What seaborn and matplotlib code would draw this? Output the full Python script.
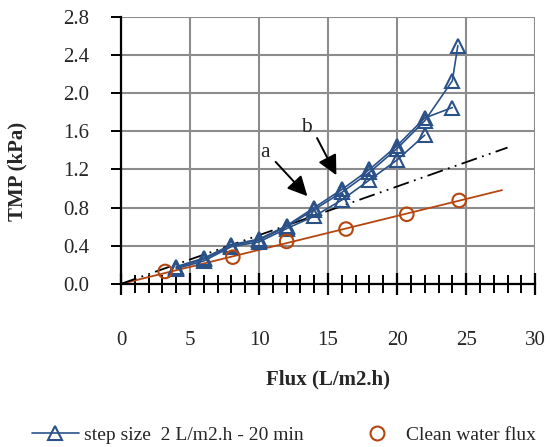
import numpy as np
import pandas as pd
import matplotlib
matplotlib.use("Agg")
import matplotlib.pyplot as plt
import seaborn as sns
from matplotlib.lines import Line2D
from matplotlib.ticker import MultipleLocator

# step-size runs (flux L/m2.h, TMP kPa)
run1_flux = [4, 6, 8, 10, 12, 14, 16, 18, 20, 22, 24]
run1_tmp = [0.18, 0.27, 0.41, 0.47, 0.61, 0.80, 0.99, 1.20, 1.45, 1.74, 1.85]
run2_flux = [4, 6, 8, 10, 12, 14, 16, 18, 20, 22, 24, 24.4]
run2_tmp = [0.17, 0.26, 0.40, 0.46, 0.60, 0.78, 0.96, 1.17, 1.42, 1.71, 2.13, 2.50]
run3_flux = [4, 6, 8, 10, 12, 14, 16, 18, 20, 22]
run3_tmp = [0.16, 0.24, 0.39, 0.44, 0.58, 0.71, 0.88, 1.09, 1.30, 1.56]

# clean water flux
cw_flux = [3.2, 8.1, 12.0, 16.3, 20.7, 24.5]
cw_tmp = [0.13, 0.28, 0.445, 0.575, 0.73, 0.875]

# trend lines (start / end flux)
cw_fit_x = [0, 27.6]
ref_line_x = [0, 28.0]
ref_line_y = [0, 1.43]

blue = "#2B5189"
orange = "#B5460F"

sns.set_theme(style="white")
plt.rcParams["font.family"] = ["Liberation Serif", "DejaVu Serif"]

fig = plt.figure(figsize=(5.5, 4.47), dpi=100)
ax = fig.add_axes([0.22, 0.365, 0.753, 0.597])

df = pd.concat([
    pd.DataFrame({"flux": run1_flux, "tmp": run1_tmp, "run": "r1"}),
    pd.DataFrame({"flux": run2_flux, "tmp": run2_tmp, "run": "r2"}),
    pd.DataFrame({"flux": run3_flux, "tmp": run3_tmp, "run": "r3"}),
])

# clean water linear fit through origin
slope = np.sum(np.array(cw_flux) * np.array(cw_tmp)) / np.sum(np.array(cw_flux) ** 2)
ax.plot(cw_fit_x, [slope * v for v in cw_fit_x], color=orange, lw=1.3, zorder=2)
ax.plot(ref_line_x, ref_line_y, color="black", lw=1.3,
        dashes=(9, 3, 1, 3, 1, 3), zorder=2)

for r, sub in df.groupby("run"):
    sns.lineplot(data=sub, x="flux", y="tmp", sort=False, ax=ax, color=blue,
                 lw=1.2, marker="^", markersize=10, markerfacecolor="none",
                 markeredgecolor=blue, markeredgewidth=1.5, zorder=3)

sns.scatterplot(x=cw_flux, y=cw_tmp, ax=ax, marker="o", s=95,
                facecolors="none", edgecolor=orange, linewidth=1.5, zorder=3)

arrow = dict(arrowstyle="-|>", color="black", lw=1.4, mutation_scale=30,
             shrinkA=0, shrinkB=0)
ax.annotate("", xy=(13.5, 0.92), xytext=(11.2, 1.28), arrowprops=arrow)
ax.annotate("", xy=(15.6, 1.14), xytext=(14.2, 1.53), arrowprops=arrow)
ax.text(10.4, 1.38, "a", fontsize=15.5, ha="center", va="center")
ax.text(13.45, 1.64, "b", fontsize=15.5, ha="center", va="center")

ax.set_xlim(0, 30)
ax.set_ylim(0, 2.8)
ax.xaxis.set_major_locator(MultipleLocator(5))
ax.xaxis.set_minor_locator(MultipleLocator(1))
ax.set_yticks(np.arange(0, 2.81, 0.4))
ax.set_yticklabels([f"{v:.1f}" for v in np.arange(0, 2.81, 0.4)])

ax.grid(True, which="major", color="#8c8c8c", lw=1.5)
ax.set_axisbelow(True)
for s in ["top", "right"]:
    ax.spines[s].set_visible(False)
for s in ["left", "bottom"]:
    ax.spines[s].set_color("black")
    ax.spines[s].set_linewidth(1.6)

ax.tick_params(axis="x", which="major", direction="inout", length=16, width=1.6,
               color="black", pad=26, labelsize=15, bottom=True)
ax.tick_params(axis="x", which="minor", direction="inout", length=13, width=1.4,
               color="black", bottom=True)
ax.tick_params(axis="y", which="major", direction="out", length=7, width=1.4,
               color="black", pad=16, labelsize=15, left=True)

ax.set_xlabel("Flux (L/m2.h)", fontsize=15, fontweight="bold", labelpad=14)
ax.set_ylabel("TMP (kPa)", fontsize=15, fontweight="bold")
ax.yaxis.set_label_coords(-0.225, 0.42)

handles = [
    Line2D([], [], color=blue, lw=1.2, marker="^", markersize=10,
           markerfacecolor="none", markeredgewidth=1.5),
    Line2D([], [], color=orange, lw=0, marker="o", markersize=10,
           markerfacecolor="none", markeredgewidth=1.5),
]
labels = ["step size  2 L/m2.h - 20 min", "Clean water flux"]
fig.legend(handles, labels, loc="center left", bbox_to_anchor=(0.058, 0.027),
           ncol=2, frameon=False, fontsize=14, handlelength=2.4,
           handletextpad=0.3, columnspacing=2.55, borderpad=0, borderaxespad=0)

fig.savefig("out.png", dpi=100)
